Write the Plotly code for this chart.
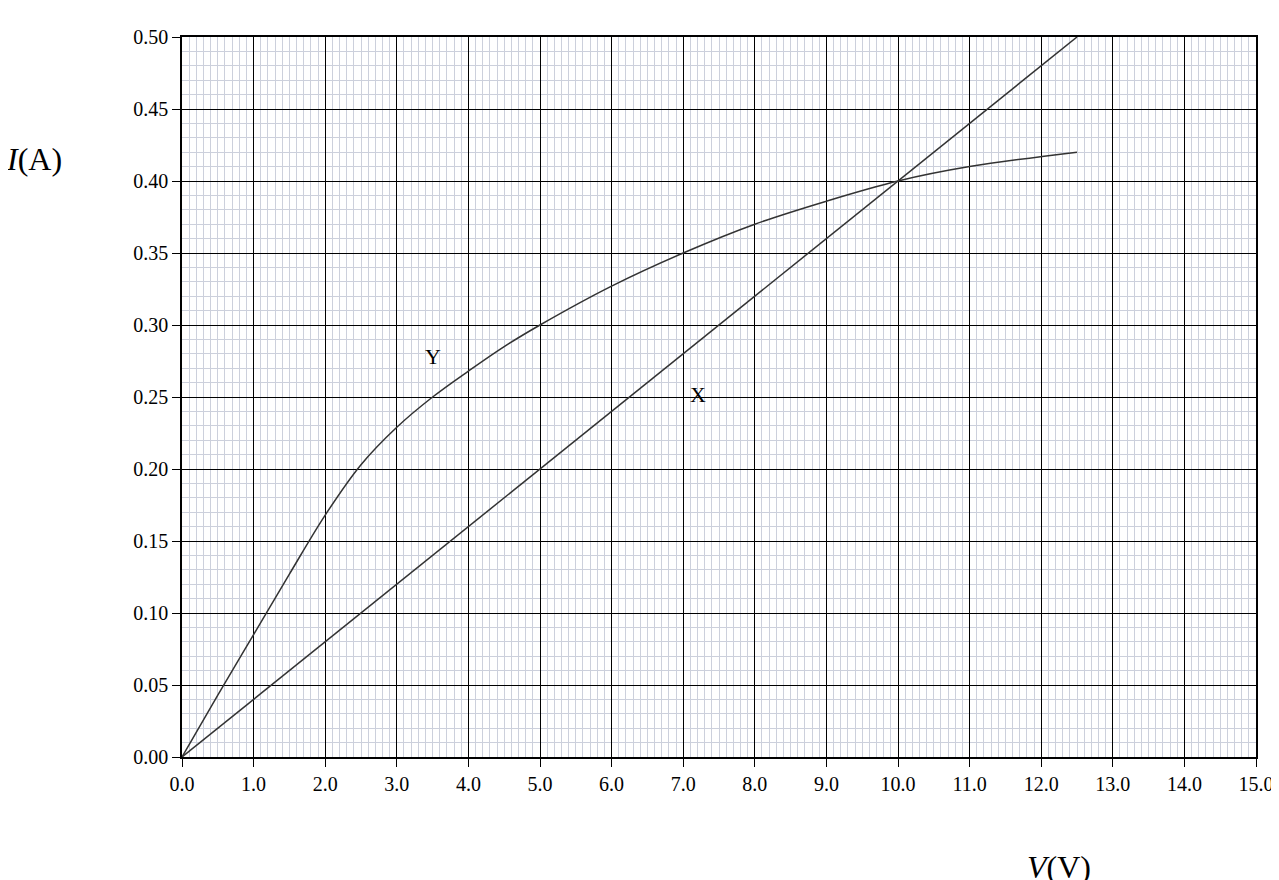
import plotly.graph_objects as go

y_v = [0, 0.5, 1, 1.5, 2, 2.5, 3, 3.5, 4, 4.5, 5, 6, 7, 8, 9, 10, 11, 12.5]
y_i = [0, 0.043, 0.085, 0.127, 0.168, 0.203, 0.229, 0.25, 0.268, 0.285, 0.3, 0.327, 0.35, 0.37, 0.386, 0.4, 0.41, 0.42]
x_v = [0, 12.5]
x_i = [0, 0.5]
xticks = [i for i in range(16)]
yticks = [round(0.05 * i, 2) for i in range(11)]

font = "Liberation Serif"
fig = go.Figure()
fig.add_trace(go.Scatter(x=y_v, y=y_i, mode="lines", line=dict(color="#333", width=1.5, shape="spline"), showlegend=False))
fig.add_trace(go.Scatter(x=x_v, y=x_i, mode="lines", line=dict(color="#333", width=1.5), showlegend=False))

fig.update_layout(
    width=1279, height=880, margin=dict(l=174, r=31, t=29, b=131),
    plot_bgcolor="white", paper_bgcolor="white",
    font=dict(family=font, size=20, color="black"),
    xaxis=dict(range=[0, 15], tickvals=xticks, ticktext=[f"{v:.1f}" for v in xticks],
               showgrid=True, gridcolor="black", gridwidth=1.3, zeroline=False,
               showline=True, linecolor="black", linewidth=1.5, ticks="outside", ticklen=8, tickcolor="black",
               minor=dict(dtick=0.1, showgrid=True, gridcolor="#ccd0dc", gridwidth=1), mirror=True),
    yaxis=dict(range=[0, 0.5], tickvals=yticks, ticktext=[f"{v:.2f}" for v in yticks],
               showgrid=True, gridcolor="black", gridwidth=1.3, zeroline=False,
               showline=True, linecolor="black", linewidth=1.5, ticks="outside", ticklen=8, tickcolor="black",
               minor=dict(dtick=0.01, showgrid=True, gridcolor="#ccd0dc", gridwidth=1), mirror=True),
)
fig.add_annotation(x=3.5, y=0.278, text="Y", showarrow=False, font=dict(size=22, family=font))
fig.add_annotation(x=7.2, y=0.252, text="X", showarrow=False, font=dict(size=22, family=font))
fig.add_annotation(xref="paper", yref="paper", x=-0.166, y=0.831, text="<i>I</i>(A)", showarrow=False,
                   font=dict(size=32, family=font), xanchor="left", yanchor="middle")
fig.add_annotation(xref="paper", yref="paper", x=0.785, y=-0.153, text="<i>V</i>(V)", showarrow=False,
                   font=dict(size=32, family=font), xanchor="left", yanchor="middle")
fig.write_html("out.html")
